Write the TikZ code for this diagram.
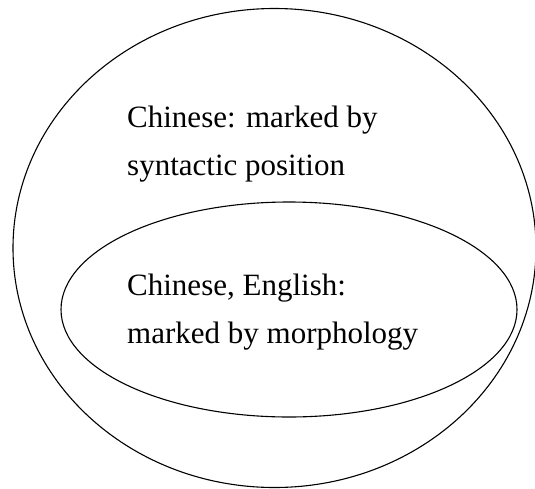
\documentclass[tikz,border=0pt]{standalone}
\usepackage{fontspec}
\setmainfont{Liberation Serif}
\begin{document}
\begin{tikzpicture}[x=1pt,y=-1pt,
  lbl/.style={anchor=base west,inner sep=0pt,font=\fontsize{31}{31}\selectfont},
  ring/.style={draw=black,line width=1.1pt}]
\useasboundingbox (0,0) rectangle (535,488);
\fill[white] (0,0) rectangle (535,488);
\draw[ring] (274.5,248) ellipse [x radius=261.5, y radius=239.5];
\draw[ring] (289,309.5) ellipse [x radius=228, y radius=107.5];
\node[lbl] (t1) at (127,127.7) {Chinese: marked by};
\node[lbl] (t2) at (127,175) {syntactic position};
\node[lbl] (t3) at (127,295) {Chinese, English:};
\node[lbl] (t4) at (127,343) {marked by morphology};
\end{tikzpicture}
\end{document}
